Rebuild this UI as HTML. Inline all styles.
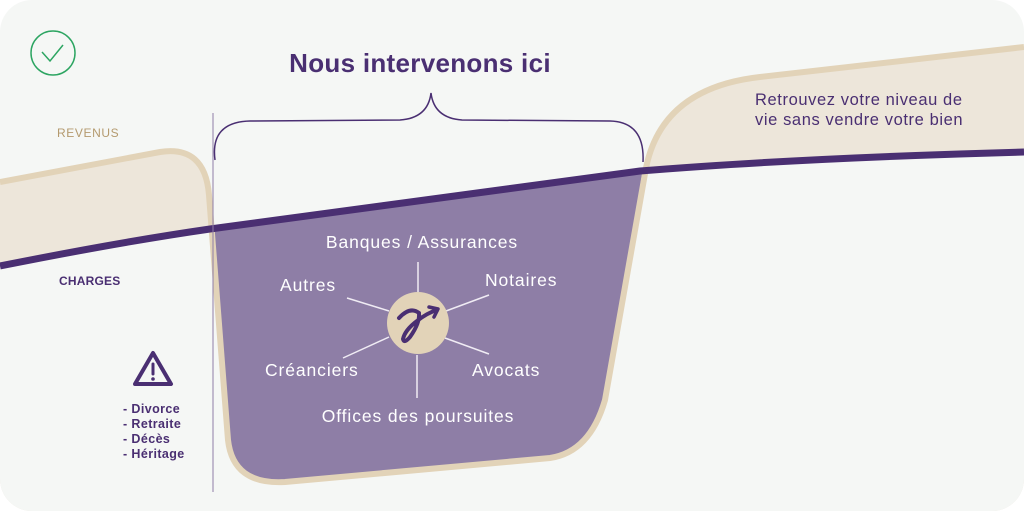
<!DOCTYPE html>
<html><head><meta charset="utf-8"><style>
html,body{margin:0;padding:0;background:#fff;}
svg{display:block;}
text{font-family:"Liberation Sans",sans-serif;}
</style></head><body>
<svg width="1024" height="511" viewBox="0 0 1024 511" xmlns="http://www.w3.org/2000/svg">
<defs>
<clipPath id="bg"><rect x="0" y="0" width="1024" height="511" rx="32"/></clipPath>
<clipPath id="below"><path d="M0,266 Q120,242 210,229 L640,171 Q800,158 1024,152 L1024,511 L0,511 Z"/></clipPath>
</defs>
<g clip-path="url(#bg)">
<rect x="0" y="0" width="1024" height="511" fill="#f5f7f5"/>
<path d="M0,182 L160,152 Q205,145 209,195 L228,440 Q233,485 285,482 L550,458 Q590,452 605,400 L646,168 Q662,88 760,77 L1024,47 L1024,511 L0,511 Z" fill="#ede6da"/>
<path d="M0,266 Q120,242 210,229 L640,171 Q800,158 1024,152 L1024,511 L0,511 Z" fill="#f5f7f5"/>
<path clip-path="url(#below)" d="M209,150 L209,195 L228,440 Q233,485 285,482 L550,458 Q590,452 605,400 L646,150 Z" fill="#8e7ea6"/>
<path d="M0,182 L160,152 Q205,145 209,195 L228,440 Q233,485 285,482 L550,458 Q590,452 605,400 L646,168 Q662,88 760,77 L1024,47" fill="none" stroke="#e2d3b8" stroke-width="6"/>
<path d="M0,266 Q120,242 210,229 L640,171 Q800,158 1024,152" fill="none" stroke="#4a2f72" stroke-width="7"/>
<line x1="213" y1="113" x2="213" y2="492" stroke="#8e7ea6" stroke-width="1"/>
<path d="M215,160 Q210,122 250,121 L400,120 Q428,118 431,93 Q434,118 462,120 L610,121 Q645,122 643,162" fill="none" stroke="#4a2f72" stroke-width="1.5"/>
<text x="420" y="72" text-anchor="middle" font-size="26" font-weight="bold" fill="#4a2f72" letter-spacing="0.3">Nous intervenons ici</text>
<circle cx="53" cy="53" r="22" fill="none" stroke="#2da562" stroke-width="1.5"/>
<path d="M42,52 L50,61 L63,45" fill="none" stroke="#2da562" stroke-width="1.5"/>
<text x="57" y="137" font-size="12" fill="#b49a6e" letter-spacing="0.6">REVENUS</text>
<text x="59" y="285" font-size="12" font-weight="bold" fill="#4a2f72" letter-spacing="0.2">CHARGES</text>
<path d="M153,353 L171,384 L135,384 Z" fill="none" stroke="#4a2f72" stroke-width="4" stroke-linejoin="round"/>
<line x1="153" y1="364" x2="153" y2="374" stroke="#4a2f72" stroke-width="3" stroke-linecap="round"/>
<circle cx="153" cy="379" r="1.8" fill="#4a2f72"/>
<g font-size="12.5" font-weight="bold" fill="#4a2f72" letter-spacing="0.4">
<text x="123" y="413">- Divorce</text>
<text x="123" y="428">- Retraite</text>
<text x="123" y="443">- Décès</text>
<text x="123" y="458">- Héritage</text>
</g>
<g stroke="#f0ecf4" stroke-width="1.5">
<line x1="418" y1="262" x2="418" y2="292"/>
<line x1="417" y1="355" x2="417" y2="398"/>
<line x1="347" y1="298" x2="389" y2="311"/>
<line x1="446" y1="311" x2="489" y2="295"/>
<line x1="343" y1="358" x2="389" y2="337"/>
<line x1="445" y1="338" x2="489" y2="354"/>
</g>
<circle cx="418" cy="323" r="31" fill="#e2d3b8"/>
<path d="M399,318 Q410,306 419,313 Q420,323 410,337 Q404,344 403,339 Q405,330 417,321 Q427,313 437,310" fill="none" stroke="#4a2f72" stroke-width="4" stroke-linecap="round"/>
<path d="M429,307 L438,309 L434,317" fill="none" stroke="#4a2f72" stroke-width="3.5" stroke-linecap="round" stroke-linejoin="round"/>
<g font-size="17.5" fill="#ffffff" letter-spacing="0.9">
<text x="422" y="248" text-anchor="middle">Banques / Assurances</text>
<text x="280" y="291">Autres</text>
<text x="485" y="286">Notaires</text>
<text x="265" y="376">Créanciers</text>
<text x="472" y="376">Avocats</text>
<text x="418" y="422" text-anchor="middle">Offices des poursuites</text>
</g>
<g font-size="16.5" fill="#4a2f72" letter-spacing="0.6">
<text x="755" y="105">Retrouvez votre niveau de</text>
<text x="755" y="125">vie sans vendre votre bien</text>
</g>
</g>
</svg>
</body></html>
